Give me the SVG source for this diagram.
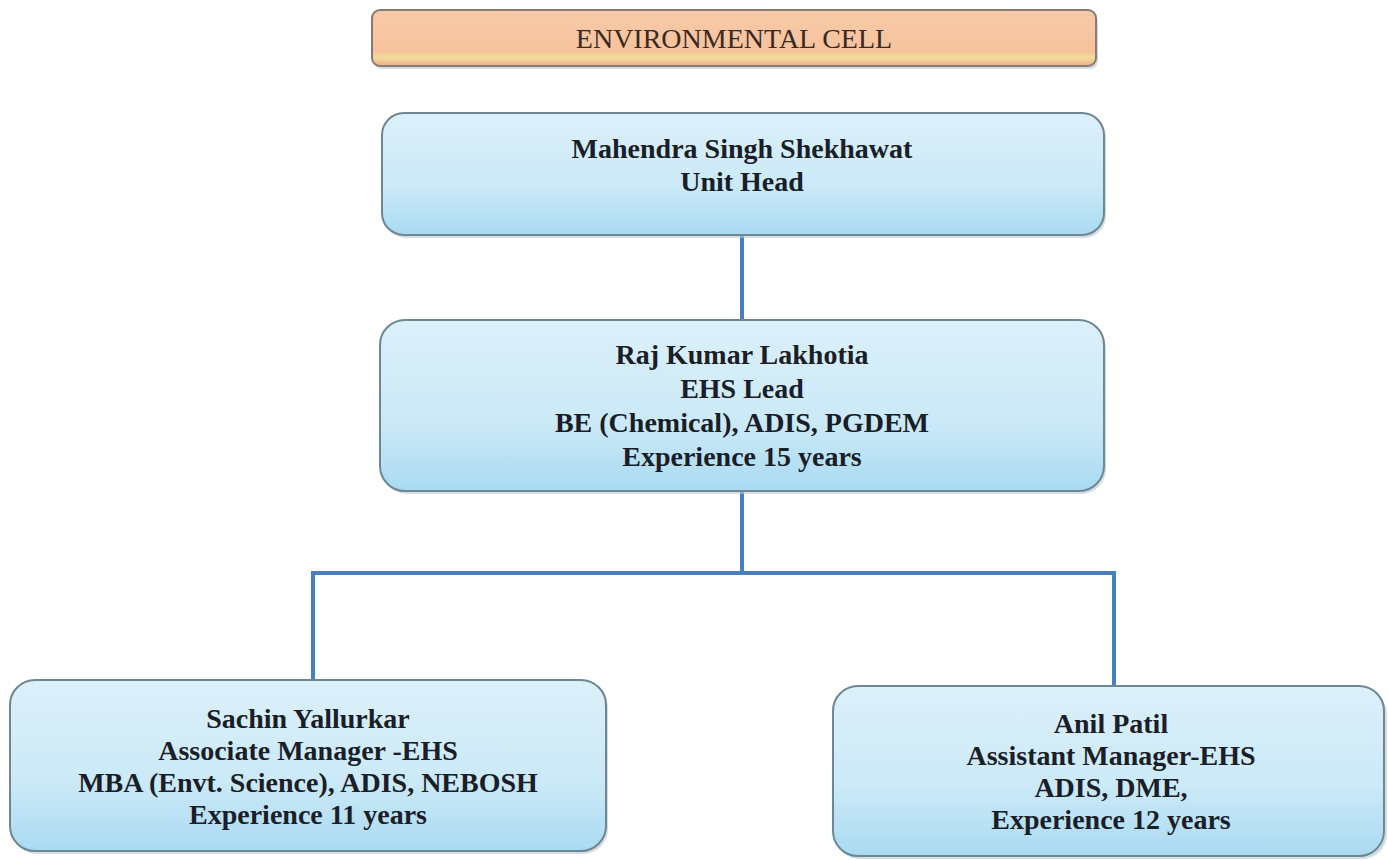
<svg xmlns="http://www.w3.org/2000/svg" width="1388" height="860" viewBox="0 0 1388 860">
<defs>
<linearGradient id="gBlue" x1="0" y1="0" x2="0" y2="1">
<stop offset="0" stop-color="#dcf0fa"/>
<stop offset="0.6" stop-color="#cbe9f7"/>
<stop offset="1" stop-color="#a9daf2"/>
</linearGradient>
<linearGradient id="gOrange" x1="0" y1="0" x2="0" y2="1">
<stop offset="0" stop-color="#f8c9a8"/>
<stop offset="0.75" stop-color="#f6c29c"/>
<stop offset="0.85" stop-color="#f3dc9a"/>
<stop offset="1" stop-color="#ecae8c"/>
</linearGradient>
</defs>
<style>
.box{fill:url(#gBlue);stroke:#6d8794;stroke-width:2}
.shadow{fill:#b9c6cf;opacity:0.6}
.t{font-family:"Liberation Serif","Times New Roman",serif;font-weight:bold;font-size:28px;fill:#1a1e28;text-anchor:middle}
.title{font-family:"Liberation Serif","Times New Roman",serif;font-size:28px;fill:#3a2a22;text-anchor:middle}
.conn{stroke:#4a7fbf;stroke-width:4;fill:none}
</style>
<rect width="1388" height="860" fill="#ffffff"/>
<g id="connectors">
<line class="conn" x1="742" y1="235" x2="742" y2="321"/>
<line class="conn" x1="742" y1="491" x2="742" y2="573"/>
<polyline class="conn" points="313,681 313,573 1114,573 1114,687"/>
</g>
<g id="title">
<rect x="374" y="13" width="724" height="56" rx="8" class="shadow"/>
<rect x="372" y="10" width="724" height="56" rx="8" fill="url(#gOrange)" stroke="#8a7a74" stroke-width="2"/>
<text class="title" x="734" y="48">ENVIRONMENTAL CELL</text>
</g>
<g id="unit-head">
<rect x="384" y="116" width="722" height="122" rx="22" class="shadow"/>
<rect x="382" y="113" width="722" height="122" rx="22" class="box"/>
<text class="t" x="742" y="158">Mahendra Singh Shekhawat</text>
<text class="t" x="742" y="191">Unit Head</text>
</g>
<g id="ehs-lead">
<rect x="382" y="323" width="724" height="171" rx="25" class="shadow"/>
<rect x="380" y="320" width="724" height="171" rx="25" class="box"/>
<text class="t" x="742" y="364">Raj Kumar Lakhotia</text>
<text class="t" x="742" y="398">EHS Lead</text>
<text class="t" x="742" y="432">BE (Chemical), ADIS, PGDEM</text>
<text class="t" x="742" y="466">Experience 15 years</text>
</g>
<g id="associate-manager">
<rect x="12" y="683" width="596" height="171" rx="25" class="shadow"/>
<rect x="10" y="680" width="596" height="171" rx="25" class="box"/>
<text class="t" x="308" y="728">Sachin Yallurkar</text>
<text class="t" x="308" y="760">Associate Manager -EHS</text>
<text class="t" x="308" y="792">MBA (Envt. Science), ADIS, NEBOSH</text>
<text class="t" x="308" y="824">Experience 11 years</text>
</g>
<g id="assistant-manager">
<rect x="835" y="689" width="552" height="170" rx="25" class="shadow"/>
<rect x="833" y="686" width="551" height="170" rx="25" class="box"/>
<text class="t" x="1111" y="733">Anil Patil</text>
<text class="t" x="1111" y="765">Assistant Manager-EHS</text>
<text class="t" x="1111" y="797">ADIS, DME,</text>
<text class="t" x="1111" y="829">Experience 12 years</text>
</g>
</svg>
